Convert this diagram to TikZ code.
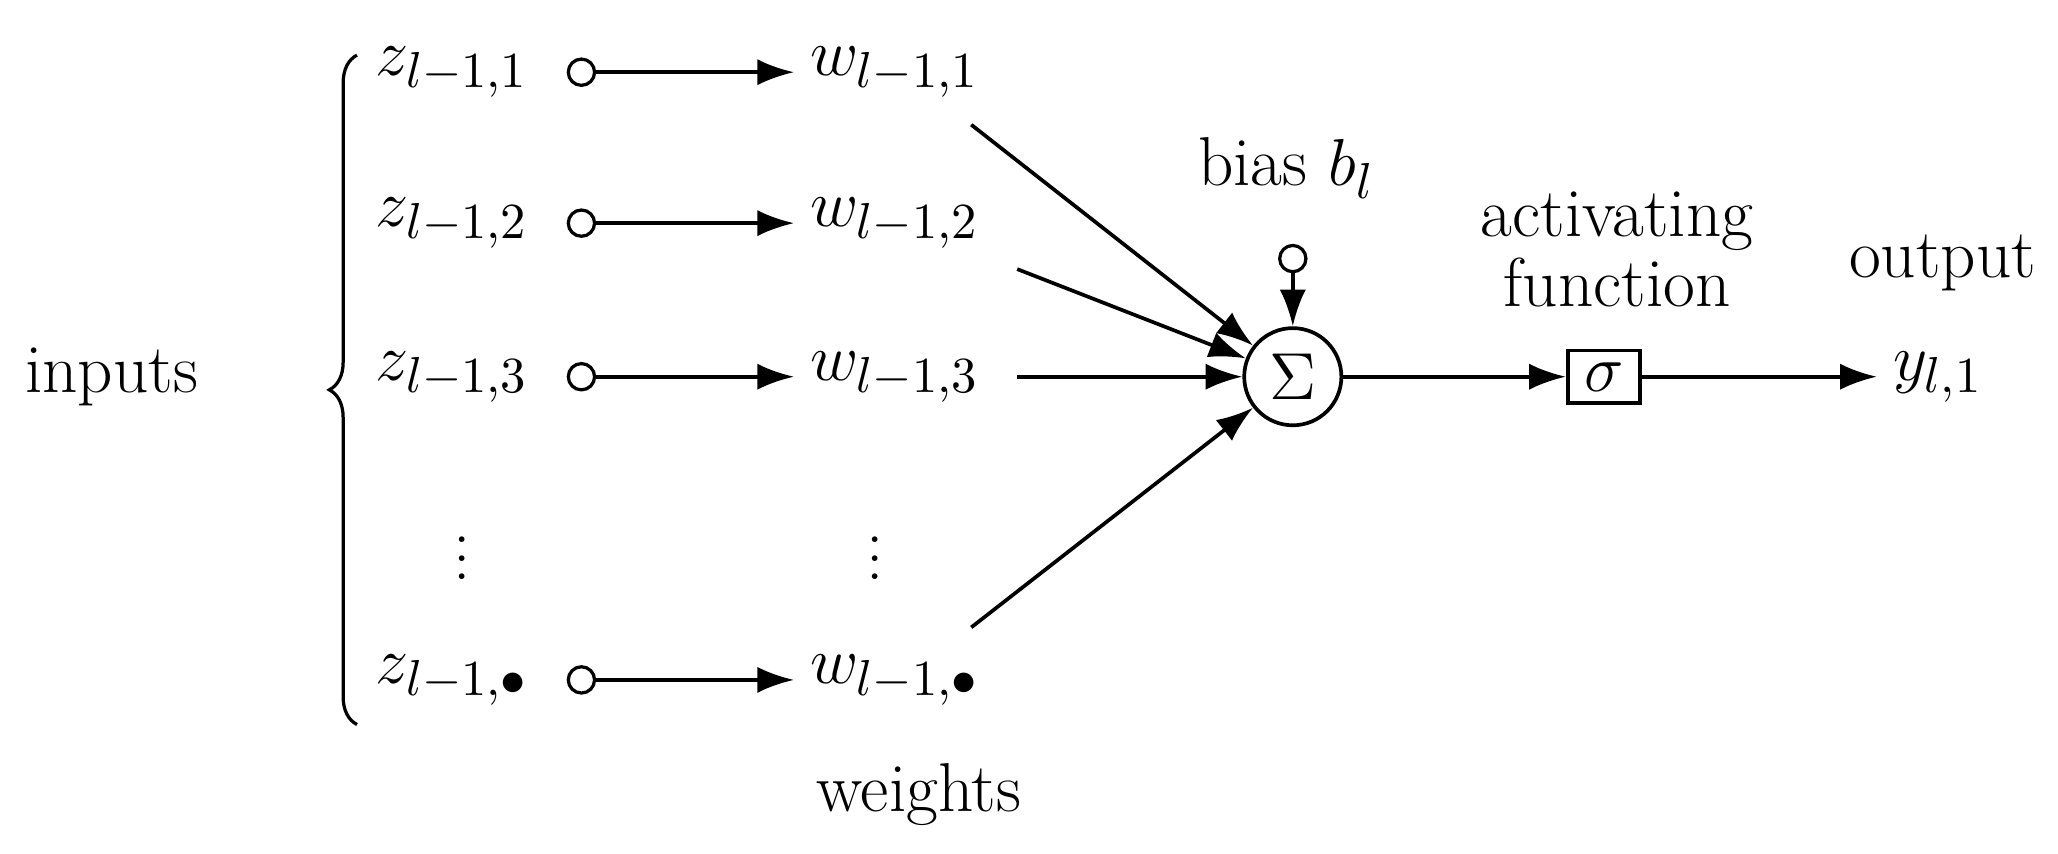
\documentclass[tikz,border=0pt]{standalone}
\usepackage{amsmath}
\usetikzlibrary{arrows.meta,decorations.pathreplacing}
\begin{document}
\begin{tikzpicture}[x=0.01cm,y=-0.01cm,
  every node/.style={font=\fontsize{15}{18}\selectfont},
  oc/.style={draw,circle,inner sep=0pt,minimum size=0.2cm,line width=0.7pt},
  ar/.style={-{Latex[length=0.28cm,width=0.2cm]},line width=0.8pt},
  ln/.style={line width=0.8pt}]
\useasboundingbox (0,0) rectangle (1568,650);
\node (inp) at (85,287) {inputs};
\draw[line width=0.7pt,decorate,decoration={brace,amplitude=6pt}] (272,552) -- (272,42);
\foreach \i/\y/\s in {1/55/1,2/170/2,3/287/3,4/518/\bullet}{
  \node[anchor=east] (z\i) at (415,\y) {$z_{l-1,\s}$};
  \node[oc] (c\i) at (443,\y) {};
  \node[anchor=west] (w\i) at (605,\y) {$w_{l-1,\s}$};
  \draw[ar] (c\i) -- (w\i.west);
}
\node (zd) at (352,415) {$\vdots$};
\node (wd) at (667,415) {$\vdots$};
\node[draw,circle,minimum size=0.74cm,inner sep=0pt,line width=0.8pt] (S) at (985,287) {$\Sigma$};
\node[oc] (b) at (985,197) {};
\node (bl) at (980,128) {bias $b_l$};
\draw[ar] (b) -- (S);
\coordinate (e1) at (740,95);
\coordinate (e2) at (775,205);
\coordinate (e3) at (775,287);
\coordinate (e4) at (740,478);
\foreach \i in {1,2,3,4}{\draw[ar] (e\i) -- (S);}
\node[draw,line width=0.8pt,minimum width=0.55cm,minimum height=0.4cm,inner sep=1pt] (sig) at (1222,287) {$\sigma$};
\node[align=center] (af) at (1232,190) {activating\\[-3pt]function};
\node (out) at (1480,200) {output};
\node[anchor=west] (y) at (1430,287) {$y_{l,1}$};
\draw[ar] (S) -- (sig);
\draw[ar] (sig) -- (y.west);
\node (wt) at (700,605) {weights};
\end{tikzpicture}
\end{document}
